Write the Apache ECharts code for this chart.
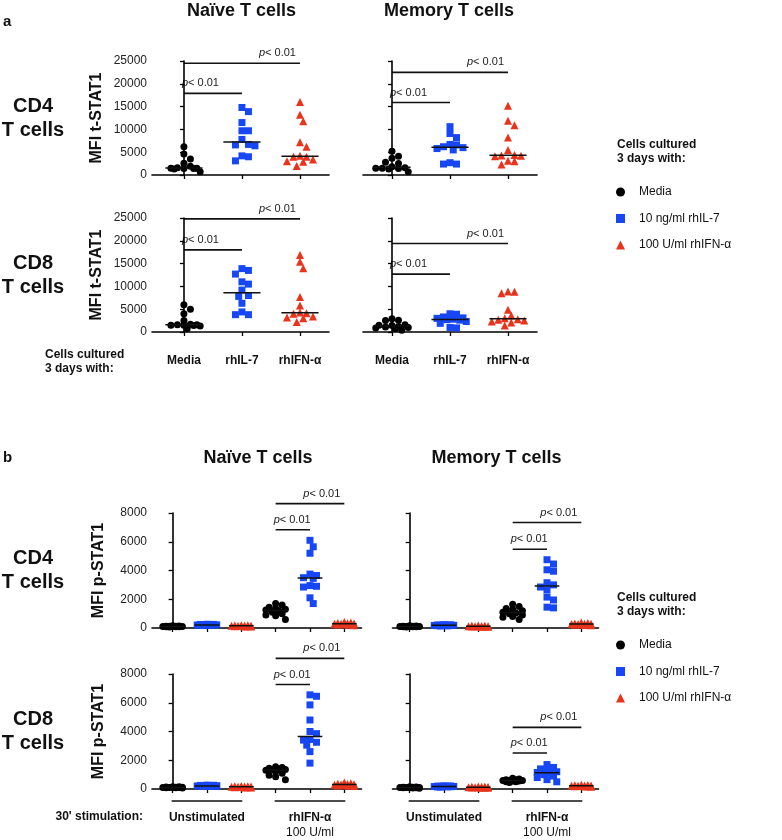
<!DOCTYPE html>
<html><head><meta charset="utf-8">
<script src="https://cdn.jsdelivr.net/npm/echarts@6/dist/echarts.min.js"></script>
<style>html,body{margin:0;padding:0;background:#fff}#c{width:782px;height:840px}</style>
</head><body><div id="c"></div>
<script>
// ---------- DATA ----------
const aCategories = ['Media', 'rhIL-7', 'rhIFN-α'];
const bGroupLabels = ['Unstimulated', 'rhIFN-α'];
const bGroupSub = '100 U/ml';
const seriesNames = ['Media', '10 ng/ml rhIL-7', '100 U/ml rhIFN-α'];
const aYMax = 25000, aYStep = 5000;
const bYMax = 8000, bYStep = 2000;

// Panel a: t-STAT1 after 3 days culture
const a_naive_cd4_media = [6200, 4600, 3500, 2600, 1900, 1600, 1500, 1500, 1400, 1400, 1300, 700];
const a_naive_cd4_il7   = [14800, 13900, 11500, 9700, 9700, 7800, 6700, 6600, 6400, 4200, 4000, 3100];
const a_naive_cd4_ifn   = [16000, 13200, 11800, 7200, 6200, 4200, 4000, 4000, 3400, 3000, 2900, 2000];
const a_mem_cd4_media   = [5200, 4100, 3700, 2800, 2500, 1800, 1600, 1500, 1500, 1400, 1300, 700];
const a_mem_cd4_il7     = [10600, 9100, 8200, 6700, 6600, 6200, 6000, 5800, 5500, 2700, 2400, 2400];
const a_mem_cd4_ifn     = [15200, 11900, 10900, 8200, 5500, 4400, 4300, 4200, 4100, 3100, 3000, 2300];
const a_naive_cd8_media = [6000, 5000, 4000, 2500, 1700, 1600, 1600, 1500, 1500, 1400, 1300, 700];
const a_naive_cd8_il7   = [13900, 13500, 12700, 11000, 10500, 9200, 8000, 7800, 6300, 4400, 3800, 3800];
const a_naive_cd8_ifn   = [16900, 15400, 14000, 7700, 5800, 4300, 4100, 4000, 3400, 3200, 3000, 2200];
const a_mem_cd8_media   = [2900, 2600, 2500, 1600, 1500, 1400, 1200, 1100, 1000, 900, 700, 400];
const a_mem_cd8_il7     = [4000, 3900, 3300, 3100, 3000, 2800, 2700, 2600, 2300, 1900, 1000, 900];
const a_mem_cd8_ifn     = [8900, 8800, 8500, 4900, 3600, 3000, 2800, 2700, 2500, 2300, 2100, 1400];

// Panel b: p-STAT1, unstimulated vs 30' rhIFN-α stimulation
const b_naive_cd4_un_media = [150, 140, 130, 120, 120, 110, 100, 100, 90, 90, 80, 70];
const b_naive_cd4_un_il7   = [260, 250, 240, 230, 220, 220, 210, 200, 200, 190, 180, 170];
const b_naive_cd4_un_ifn   = [200, 190, 180, 170, 160, 150, 150, 140, 130, 120, 110, 100];
const b_naive_cd4_st_media = [1700, 1600, 1450, 1350, 1300, 1250, 1200, 1100, 1000, 900, 850, 600];
const b_naive_cd4_st_il7   = [6100, 5650, 5200, 3750, 3650, 3500, 3450, 2950, 2900, 2850, 2100, 1700];
const b_naive_cd4_st_ifn   = [420, 380, 350, 330, 310, 300, 290, 280, 270, 250, 230, 200];
const b_mem_cd4_un_media   = [150, 140, 130, 120, 110, 110, 100, 100, 90, 90, 80, 70];
const b_mem_cd4_un_il7     = [230, 220, 210, 200, 200, 190, 180, 180, 170, 160, 150, 140];
const b_mem_cd4_un_ifn     = [170, 160, 150, 140, 130, 120, 120, 110, 100, 100, 90, 80];
const b_mem_cd4_st_media   = [1650, 1500, 1350, 1300, 1200, 1100, 1050, 1000, 900, 800, 750, 600];
const b_mem_cd4_st_il7     = [4750, 4450, 4050, 3950, 3150, 3000, 2850, 2650, 2150, 1950, 1450, 1400];
const b_mem_cd4_st_ifn     = [380, 350, 320, 300, 290, 280, 270, 260, 250, 230, 210, 190];
const b_naive_cd8_un_media = [160, 150, 140, 130, 120, 110, 110, 100, 100, 90, 80, 70];
const b_naive_cd8_un_il7   = [270, 260, 250, 240, 230, 220, 210, 200, 200, 190, 180, 170];
const b_naive_cd8_un_ifn   = [210, 200, 190, 180, 170, 160, 150, 140, 130, 120, 110, 100];
const b_naive_cd8_st_media = [1550, 1500, 1450, 1400, 1350, 1350, 1300, 1200, 1100, 950, 850, 650];
const b_naive_cd8_st_il7   = [6550, 6450, 5850, 4800, 4000, 3850, 3450, 3400, 3250, 3050, 2600, 1800];
const b_naive_cd8_st_ifn   = [450, 400, 370, 350, 330, 310, 300, 290, 270, 250, 230, 210];
const b_mem_cd8_un_media   = [150, 140, 130, 120, 110, 100, 100, 90, 90, 80, 70, 60];
const b_mem_cd8_un_il7     = [220, 210, 200, 200, 190, 180, 170, 170, 160, 150, 140, 130];
const b_mem_cd8_un_ifn     = [180, 170, 160, 150, 140, 130, 120, 110, 110, 100, 90, 80];
const b_mem_cd8_st_media   = [750, 700, 650, 650, 600, 600, 600, 550, 550, 500, 500, 450];
const b_mem_cd8_st_il7     = [1700, 1500, 1400, 1300, 1200, 1150, 1100, 1000, 900, 800, 650, 500];
const b_mem_cd8_st_ifn     = [300, 280, 260, 250, 240, 230, 220, 210, 200, 190, 180, 160];

// significance annotations: [fromGroup, toGroup, height in axis units]
const a_naive_cd4_sig = [[0, 2, 24500], [0, 1, 17900]];
const a_mem_cd4_sig   = [[0, 2, 22500], [0, 1, 15900]];
const a_naive_cd8_sig = [[0, 2, 24800], [0, 1, 18000]];
const a_mem_cd8_sig   = [[0, 2, 19400], [0, 1, 12700]];
const b_naive_cd4_sig = [[3, 5, 8650], [3, 4, 6830]];
const b_mem_cd4_sig   = [[3, 5, 7340], [3, 4, 5480]];
const b_naive_cd8_sig = [[3, 5, 9090], [3, 4, 7270]];
const b_mem_cd8_sig   = [[3, 5, 4290], [3, 4, 2500]];
const pText = '{i|p}< 0.01';

// ---------- STYLE / LAYOUT ----------
const FONT = '"Liberation Sans", Arial, Helvetica, sans-serif';
const TXT = '#111';
const COL = ['#000000', '#1747f5', '#e8341c'];
const SYM = ['circle', 'rect', 'triangle'];
const SYMSIZE = [7, 7, 8];

const panels = [
  {kind: 'a', grid: {left: 152, top: 61, width: 177, height: 114}, xr: [-0.55, 2.5], yLabels: true, xLabels: false,
   groups: [[0, 0, a_naive_cd4_media], [1, 1, a_naive_cd4_il7], [2, 2, a_naive_cd4_ifn]], sig: a_naive_cd4_sig},
  {kind: 'a', grid: {left: 363, top: 61, width: 174, height: 114}, xr: [-0.5, 2.5], yLabels: false, xLabels: false,
   groups: [[0, 0, a_mem_cd4_media], [1, 1, a_mem_cd4_il7], [2, 2, a_mem_cd4_ifn]], sig: a_mem_cd4_sig},
  {kind: 'a', grid: {left: 152, top: 218, width: 177, height: 114}, xr: [-0.55, 2.5], yLabels: true, xLabels: true,
   groups: [[0, 0, a_naive_cd8_media], [1, 1, a_naive_cd8_il7], [2, 2, a_naive_cd8_ifn]], sig: a_naive_cd8_sig},
  {kind: 'a', grid: {left: 363, top: 218, width: 174, height: 114}, xr: [-0.5, 2.5], yLabels: false, xLabels: true,
   groups: [[0, 0, a_mem_cd8_media], [1, 1, a_mem_cd8_il7], [2, 2, a_mem_cd8_ifn]], sig: a_mem_cd8_sig},
  {kind: 'b', grid: {left: 152, top: 513, width: 209.5, height: 115}, xr: [-0.6, 5.5], yLabels: true, xLabels: false,
   groups: [[0, 0, b_naive_cd4_un_media], [1, 1, b_naive_cd4_un_il7], [2, 2, b_naive_cd4_un_ifn],
            [3, 0, b_naive_cd4_st_media], [4, 1, b_naive_cd4_st_il7], [5, 2, b_naive_cd4_st_ifn]], sig: b_naive_cd4_sig},
  {kind: 'b', grid: {left: 392.5, top: 513, width: 206, height: 115}, xr: [-0.5, 5.5], yLabels: false, xLabels: false,
   groups: [[0, 0, b_mem_cd4_un_media], [1, 1, b_mem_cd4_un_il7], [2, 2, b_mem_cd4_un_ifn],
            [3, 0, b_mem_cd4_st_media], [4, 1, b_mem_cd4_st_il7], [5, 2, b_mem_cd4_st_ifn]], sig: b_mem_cd4_sig},
  {kind: 'b', grid: {left: 152, top: 674, width: 209.5, height: 115}, xr: [-0.6, 5.5], yLabels: true, xLabels: true,
   groups: [[0, 0, b_naive_cd8_un_media], [1, 1, b_naive_cd8_un_il7], [2, 2, b_naive_cd8_un_ifn],
            [3, 0, b_naive_cd8_st_media], [4, 1, b_naive_cd8_st_il7], [5, 2, b_naive_cd8_st_ifn]], sig: b_naive_cd8_sig},
  {kind: 'b', grid: {left: 392.5, top: 674, width: 206, height: 115}, xr: [-0.5, 5.5], yLabels: false, xLabels: true,
   groups: [[0, 0, b_mem_cd8_un_media], [1, 1, b_mem_cd8_un_il7], [2, 2, b_mem_cd8_un_ifn],
            [3, 0, b_mem_cd8_st_media], [4, 1, b_mem_cd8_st_il7], [5, 2, b_mem_cd8_st_ifn]], sig: b_mem_cd8_sig}
];

function median(arr) {
  const s = arr.slice().sort((a, b) => a - b);
  const n = s.length;
  return n % 2 ? s[(n - 1) / 2] : (s[n / 2 - 1] + s[n / 2]) / 2;
}

// deterministic beeswarm layout (pixel based), returns x offsets in axis units
function swarm(values, pxY, pxX, maxHalf) {
  const D = 6.5, step = 3.25;
  const order = values.map((v, i) => i).sort((a, b) => values[b] - values[a]);
  const placed = [];
  const out = new Array(values.length);
  const cands = [0];
  for (let k = 1; k * step <= maxHalf + 0.01; k++) { cands.push(k * step, -k * step); }
  order.forEach(i => {
    const py = values[i] * pxY;
    let best = null, bestScore = -1;
    for (const c of cands) {
      let md = Infinity;
      for (const p of placed) { md = Math.min(md, Math.hypot(p[0] - c, p[1] - py)); }
      if (md >= D) { best = c; bestScore = Infinity; break; }
      if (md > bestScore + 0.01) { bestScore = md; best = c; }
    }
    placed.push([best, py]);
    out[i] = best / pxX;
  });
  return out;
}

const grids = [], xAxes = [], yAxes = [], series = [];
panels.forEach((p, gi) => {
  const isA = p.kind === 'a';
  const ymax = isA ? aYMax : bYMax, ystep = isA ? aYStep : bYStep;
  grids.push(Object.assign({containLabel: false}, p.grid));
  const nCat = isA ? 3 : 6;
  const catVals = Array.from({length: nCat}, (_, i) => i);
  xAxes.push({
    gridIndex: gi, type: 'value', min: p.xr[0], max: p.xr[1],
    splitLine: {show: false},
    axisLine: {show: true, onZero: false, lineStyle: {color: '#000', width: 1.6}},
    axisTick: {show: true, customValues: catVals, length: 4, lineStyle: {color: '#000', width: 1.3}},
    axisLabel: p.xLabels ? (isA ? {
      show: true, customValues: catVals, margin: 23,
      formatter: v => aCategories[Math.round(v)],
      fontFamily: FONT, fontSize: 12, fontWeight: 'bold', color: TXT
    } : {
      show: true, customValues: [1, 4], margin: 21,
      formatter: v => Math.round(v) === 1 ? '{b|' + bGroupLabels[0] + '}' : '{b|' + bGroupLabels[1] + '}\n{r|' + bGroupSub + '}',
      rich: {
        b: {fontFamily: FONT, fontSize: 12, fontWeight: 'bold', color: TXT, lineHeight: 15},
        r: {fontFamily: FONT, fontSize: 12, color: TXT, lineHeight: 15}
      }
    }) : {show: false}
  });
  yAxes.push({
    gridIndex: gi, type: 'value', min: 0, max: ymax, interval: ystep,
    splitLine: {show: false},
    axisLine: {show: true, lineStyle: {color: '#000', width: 1.6}},
    axisTick: {show: true, length: 4, lineStyle: {color: '#000', width: 1.3}},
    axisLabel: {show: p.yLabels, margin: 5, fontFamily: FONT, fontSize: 12, color: '#222', formatter: v => String(v)},
    name: p.yLabels ? (isA ? 'MFI t-STAT1' : 'MFI p-STAT1') : '',
    nameLocation: 'middle', nameGap: isA ? 47 : 45,
    nameTextStyle: {fontFamily: FONT, fontSize: 16, fontWeight: 'bold', color: TXT}
  });
  const pxY = p.grid.height / ymax;
  const pxX = p.grid.width / (p.xr[1] - p.xr[0]);
  const maxHalf = isA ? 17 : 11;
  const medHalf = isA ? 0.32 : 0.36;
  p.groups.forEach(([x, t, vals]) => {
    const offs = swarm(vals, pxY, pxX, maxHalf);
    series.push({
      type: 'scatter', name: seriesNames[t], xAxisIndex: gi, yAxisIndex: gi,
      symbol: SYM[t], symbolSize: SYMSIZE[t], itemStyle: {color: COL[t], opacity: 1},
      data: vals.map((v, i) => [x + offs[i], v]), z: 3, silent: true
    });
    const m = median(vals);
    series.push({
      type: 'line', name: 'median', xAxisIndex: gi, yAxisIndex: gi, symbol: 'none',
      data: [[x - medHalf, m], [x + medHalf, m]],
      lineStyle: {color: '#111', width: 1.5}, z: 4, silent: true
    });
  });
});

function T(x, y, text, o) {
  o = o || {};
  return {
    type: 'text', x: x, y: y, silent: true,
    style: {
      text: text, fill: o.fill || TXT, fontFamily: FONT, fontSize: o.size || 12,
      fontWeight: o.bold ? 'bold' : 'normal', align: o.align || 'left',
      verticalAlign: o.va || 'middle', lineHeight: o.lh || undefined, rich: o.rich
    }
  };
}

const legendBase = {
  orient: 'vertical', left: 611, itemWidth: 9, itemHeight: 9, itemGap: 12.5, selectedMode: false,
  data: [{name: seriesNames[0], icon: 'circle'}, {name: seriesNames[1], icon: 'rect'}, {name: seriesNames[2], icon: 'triangle'}],
  textStyle: {fontFamily: FONT, fontSize: 12, color: TXT, lineHeight: 14, padding: [0, 0, 0, 9]}
};

const staticGraphics = [
  T(3, 22, 'a', {bold: true, size: 15}),
  T(3, 458, 'b', {bold: true, size: 15}),
  T(241.5, 11, 'Naïve T cells', {bold: true, size: 18, align: 'center'}),
  T(449, 11, 'Memory T cells', {bold: true, size: 18, align: 'center'}),
  T(258, 458, 'Naïve T cells', {bold: true, size: 18, align: 'center'}),
  T(496.5, 458, 'Memory T cells', {bold: true, size: 18, align: 'center'}),
  T(33, 118, 'CD4\nT cells', {bold: true, size: 20, align: 'center', lh: 24}),
  T(33, 275, 'CD8\nT cells', {bold: true, size: 20, align: 'center', lh: 24}),
  T(33, 570, 'CD4\nT cells', {bold: true, size: 20, align: 'center', lh: 24}),
  T(33, 731, 'CD8\nT cells', {bold: true, size: 20, align: 'center', lh: 24}),
  T(45, 362, 'Cells cultured\n3 days with:', {bold: true, lh: 14}),
  T(143, 817, "30' stimulation:", {bold: true, align: 'right'}),
  T(617, 152, 'Cells cultured\n3 days with:', {bold: true, lh: 14}),
  T(617, 605, 'Cells cultured\n3 days with:', {bold: true, lh: 14})
];

const chart = echarts.init(document.getElementById('c'), null, {renderer: 'canvas'});
chart.setOption({
  backgroundColor: '#fff',
  animation: false,
  grid: grids, xAxis: xAxes, yAxis: yAxes, series: series,
  legend: [Object.assign({top: 180}, legendBase), Object.assign({top: 633}, legendBase)],
  graphic: staticGraphics
});

// annotations positioned through the axes
const ann = [];
const pRich = {i: {fontStyle: 'italic', fontFamily: FONT, fontSize: 11, fill: '#222'}};
panels.forEach((p, gi) => {
  p.sig.forEach(([x1, x2, y], k) => {
    const a = chart.convertToPixel({gridIndex: gi}, [x1, y]);
    const b = chart.convertToPixel({gridIndex: gi}, [x2, y]);
    ann.push({type: 'line', silent: true, shape: {x1: a[0], y1: a[1], x2: b[0], y2: b[1]}, style: {stroke: '#111', lineWidth: 1.6}});
    const long = k === 0;
    ann.push({
      type: 'text', silent: true, x: long ? b[0] - 4 : a[0] - 2, y: a[1] - 10,
      style: {text: pText, rich: pRich, fontFamily: FONT, fontSize: 11, fill: '#222', align: long ? 'right' : 'left', verticalAlign: 'middle'}
    });
  });
  if (p.kind === 'b' && p.xLabels) {
    [[0, 2], [3, 5]].forEach(([g1, g2]) => {
      const a = chart.convertToPixel({gridIndex: gi}, [g1, 0]);
      const b = chart.convertToPixel({gridIndex: gi}, [g2, 0]);
      ann.push({type: 'line', silent: true, shape: {x1: a[0] - 1, y1: a[1] + 12, x2: b[0] + 1, y2: b[1] + 12}, style: {stroke: '#111', lineWidth: 1.4}});
    });
  }
});
chart.setOption({graphic: staticGraphics.concat(ann)});
</script>
</body></html>
